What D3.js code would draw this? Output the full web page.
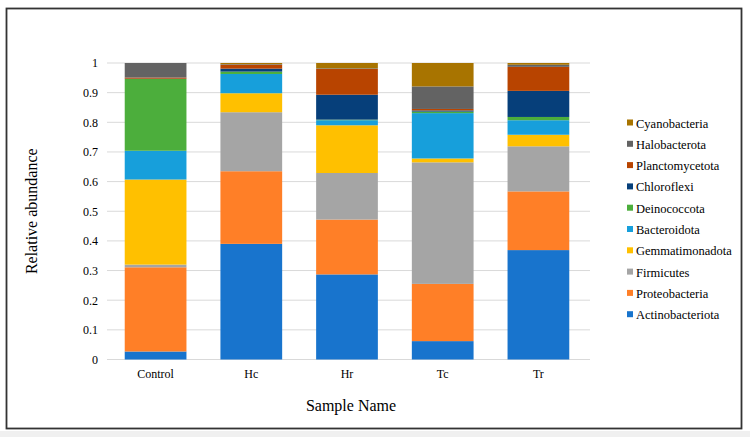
<!DOCTYPE html>
<html>
<head>
<meta charset="utf-8">
<script src="https://cdn.jsdelivr.net/npm/d3@7"></script>
<style>
  body { margin: 0; background: #f0f0f0; }
  svg { display: block; }
</style>
</head>
<body>
<div id="chart"></div>
<script>
// samples and phyla (bottom to top of each stack)
const samples = ["Control", "Hc", "Hr", "Tc", "Tr"];
const phyla = ["Actinobacteriota", "Proteobacteria", "Firmicutes", "Gemmatimonadota", "Bacteroidota",
               "Deinococcota", "Chloroflexi", "Planctomycetota", "Halobacterota", "Cyanobacteria"];

// relative abundance per phylum, one value per sample
const actinobacteriota = [0.027, 0.390, 0.287, 0.062, 0.369];
const proteobacteria   = [0.284, 0.245, 0.185, 0.193, 0.198];
const firmicutes       = [0.009, 0.199, 0.157, 0.410, 0.152];
const gemmatimonadota  = [0.287, 0.064, 0.161, 0.013, 0.039];
const bacteroidota     = [0.097, 0.065, 0.017, 0.153, 0.049];
const deinococcota     = [0.242, 0.008, 0.002, 0.005, 0.011];
const chloroflexi      = [0.001, 0.010, 0.084, 0.004, 0.088];
const planctomycetota  = [0.004, 0.013, 0.087, 0.005, 0.081];
const halobacterota    = [0.049, 0.002, 0.002, 0.076, 0.007];
const cyanobacteria    = [0.000, 0.004, 0.018, 0.079, 0.006];

const yTicks = [0, 0.1, 0.2, 0.3, 0.4, 0.5, 0.6, 0.7, 0.8, 0.9, 1];

const colors = ["#1874cd", "#ff7f27", "#a5a5a5", "#ffc000", "#179fdb",
                "#4cae3c", "#063f7a", "#b84400", "#636363", "#a87400"];

const series = [actinobacteriota, proteobacteria, firmicutes, gemmatimonadota, bacteroidota,
                deinococcota, chloroflexi, planctomycetota, halobacterota, cyanobacteria];

// build rows for d3.stack
const rows = samples.map((s, i) => {
    const r = { sample: s };
    phyla.forEach((p, j) => r[p] = series[j][i]);
    return r;
});

const w = 750, h = 437;
const svg = d3.select("#chart").append("svg").attr("width", w).attr("height", h);

// white panel with dark frame
svg.append("rect").attr("x", 0).attr("y", 0).attr("width", w).attr("height", 431).attr("fill", "#fff");
svg.append("rect").attr("x", 6.5).attr("y", 8.5).attr("width", 735).attr("height", 420)
    .attr("fill", "#fff").attr("stroke", "#333").attr("stroke-width", 1.8);

const x = d3.scaleBand().domain(samples).range([107.5, 586.5]).paddingInner(0.355).paddingOuter(0.18);
const y = d3.scaleLinear().domain([0, 1]).range([359.5, 63]);

const font = "'Liberation Serif', 'Times New Roman', serif";

// gridlines
svg.append("g").selectAll("line").data(yTicks).enter().append("line")
    .attr("x1", 107).attr("x2", 590)
    .attr("y1", d => y(d)).attr("y2", d => y(d))
    .attr("stroke", "#d9d9d9").attr("stroke-width", 1);

// y axis labels
const yAxis = d3.axisLeft(y).tickValues(yTicks).tickSize(0).tickPadding(0).tickFormat(d3.format("~g"));
svg.append("g").attr("transform", "translate(98,0)").call(yAxis)
    .call(g => g.select(".domain").remove())
    .selectAll("text").style("font-family", font).style("font-size", "12px").attr("fill", "#000");

// stacked bars
const stack = d3.stack().keys(phyla);
const layers = stack(rows);
svg.append("g").selectAll("g").data(layers).enter().append("g")
    .attr("fill", (d, i) => colors[i])
    .selectAll("rect").data(d => d).enter().append("rect")
    .attr("x", d => x(d.data.sample))
    .attr("width", x.bandwidth())
    .attr("y", d => y(d[1]))
    .attr("height", d => Math.max(0, y(d[0]) - y(d[1])));

// x axis labels
const xAxis = d3.axisBottom(x).tickSize(0).tickPadding(0);
svg.append("g").attr("transform", "translate(0,369)").call(xAxis)
    .call(g => g.select(".domain").remove())
    .selectAll("text").style("font-family", font).style("font-size", "12px").attr("fill", "#000");

// axis titles
svg.append("text").attr("transform", "translate(37," + y(0.5) + ") rotate(-90)")
    .attr("text-anchor", "middle").style("font-family", font).style("font-size", "16px")
    .text("Relative abundance");
svg.append("text").attr("x", 351).attr("y", 411).attr("text-anchor", "middle")
    .style("font-family", font).style("font-size", "16px").text("Sample Name");

// legend (top entry is the last stacked phylum)
const legend = svg.append("g").attr("transform", "translate(627,124)");
const legendItems = phyla.slice().reverse();
legendItems.forEach((p, i) => {
    const g = legend.append("g").attr("transform", "translate(0," + (i * 21.3) + ")");
    g.append("rect").attr("x", 0).attr("y", -4.5).attr("width", 6).attr("height", 6)
        .attr("fill", colors[phyla.indexOf(p)]);
    g.append("text").attr("x", 9).attr("y", 3.5)
        .style("font-family", font).style("font-size", "12.5px").text(p);
});
</script>
</body>
</html>
